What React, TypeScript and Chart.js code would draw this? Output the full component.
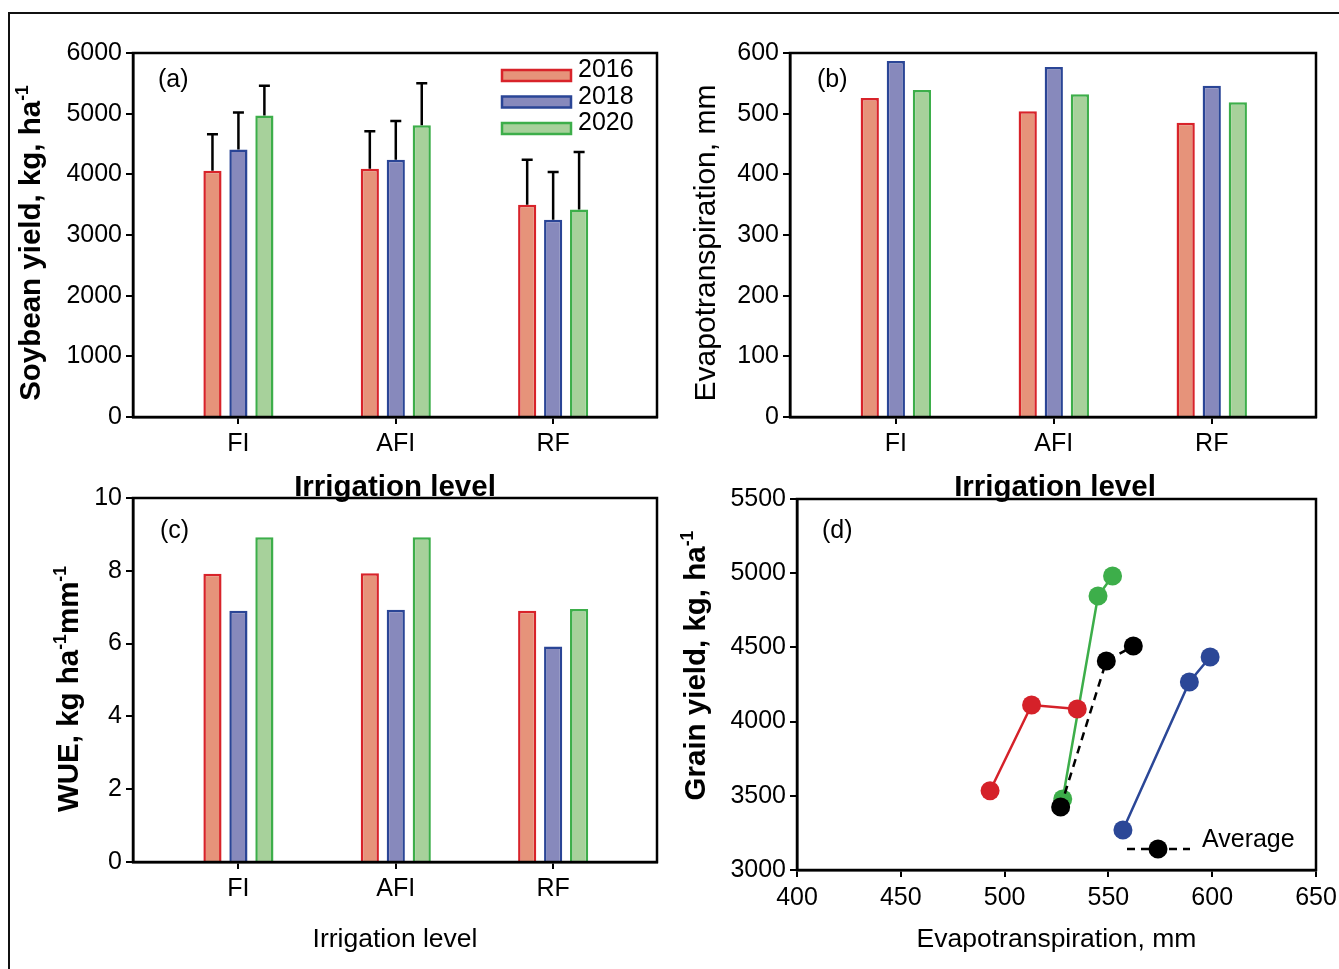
import React, { useEffect, useRef } from 'react';
import { Chart, registerables } from 'chart.js';

Chart.register(...registerables);

// ---------------- DATA ----------------
const categories = ['FI', 'AFI', 'RF'];
const years = ['2016', '2018', '2020'];

// (a) Soybean yield, kg/ha (mean) and error (SD)
const yield2016 = [4060, 4090, 3500];
const yield2018 = [4410, 4240, 3250];
const yield2020 = [4970, 4810, 3420];
const yieldErr2016 = [600, 620, 740];
const yieldErr2018 = [610, 640, 790];
const yieldErr2020 = [490, 690, 950];

// (b) Evapotranspiration, mm
const et2016 = [526, 504, 485];
const et2018 = [587, 577, 546];
const et2020 = [539, 532, 519];

// (c) WUE, kg ha-1 mm-1
const wue2016 = [7.92, 7.93, 6.9];
const wue2018 = [6.9, 6.93, 5.92];
const wue2020 = [8.92, 8.92, 6.95];

// (d) Evapotranspiration (mm) vs grain yield (kg/ha)
const etD2016 = [493, 513, 535];
const gyD2016 = [3534, 4112, 4085];
const etD2018 = [557, 589, 599];
const gyD2018 = [3270, 4267, 4435];
const etD2020 = [528, 545, 552];
const gyD2020 = [3478, 4846, 4981];
const etDAvg = [527, 549, 562];
const gyDAvg = [3425, 4408, 4509];

// ---------------- STYLE ----------------
const W = 1339;
const H = 969;
const FONT = '"Liberation Sans", Arial, Helvetica, sans-serif';
const FILLS = ['#E6937A', '#8789BC', '#A7D19B'];
const BORDERS = ['#D8232A', '#2A4596', '#3DAE4A'];
const POINTS = ['#D52129', '#2B4797', '#3DAE4A'];
const TICK_SIZE = 25;
const YW = 90;
const XH = 50;

type Seg = { t: string; sup?: boolean };

function drawRich(
  ctx: CanvasRenderingContext2D,
  segs: Seg[],
  x: number,
  y: number,
  size: number,
  bold: boolean,
  rotate: boolean,
  align: 'center' | 'left' = 'center'
) {
  ctx.save();
  ctx.translate(x, y);
  if (rotate) ctx.rotate(-Math.PI / 2);
  const weight = bold ? 'bold ' : '';
  const supSize = size * 0.6;
  const fontOf = (s: Seg) => `${weight}${s.sup ? supSize : size}px ${FONT}`;
  let total = 0;
  const widths = segs.map((s) => {
    ctx.font = fontOf(s);
    const w = ctx.measureText(s.t).width;
    total += w;
    return w;
  });
  let cx = align === 'center' ? -total / 2 : 0;
  ctx.fillStyle = '#000';
  ctx.textBaseline = 'alphabetic';
  ctx.textAlign = 'left';
  segs.forEach((s, i) => {
    ctx.font = fontOf(s);
    ctx.fillText(s.t, cx, s.sup ? -size * 0.4 : 0);
    cx += widths[i];
  });
  ctx.restore();
}

type Plot = { l: number; t: number; r: number; b: number };

function axisCommon() {
  return {
    grid: {
      display: true,
      drawOnChartArea: false,
      drawTicks: true,
      tickLength: 7,
      color: '#000',
      lineWidth: 2,
      offset: false,
    },
    border: { display: true, color: '#000', width: 2.5 },
  };
}

function layoutPadding(p: Plot) {
  return {
    left: p.l - YW,
    top: p.t,
    right: W - p.r,
    bottom: H - p.b - XH,
  };
}

function fitX(s: any) {
  s.height = XH;
  s.paddingLeft = 0;
  s.paddingRight = 0;
}

function fitY(s: any) {
  s.width = YW;
  s.paddingTop = 0;
  s.paddingBottom = 0;
}

function drawFrame(chart: any) {
  const { ctx, chartArea: a } = chart;
  ctx.save();
  ctx.strokeStyle = '#000';
  ctx.lineWidth = 2.5;
  ctx.strokeRect(a.left, a.top, a.right - a.left, a.bottom - a.top);
  ctx.restore();
}

const plainNum = (v: any) => String(v);

function barConfig(opts: {
  series: number[][];
  errors?: number[][];
  yMax: number;
  yStep: number;
  plot: Plot;
  deco: (chart: any) => void;
}) {
  const c = axisCommon();
  return {
    type: 'bar',
    data: {
      datasets: years.map((yr, k) => ({
        label: yr,
        data: opts.series[k].map((v, i) => ({ x: i + 1, y: v })),
        backgroundColor: FILLS[k],
        borderColor: BORDERS[k],
        borderWidth: 2.5,
        borderSkipped: 'start',
        categoryPercentage: 0.495,
        barPercentage: 0.7,
      })),
    },
    options: {
      animation: false,
      responsive: false,
      layout: { padding: layoutPadding(opts.plot) },
      plugins: { legend: { display: false }, tooltip: { enabled: false } },
      scales: {
        x: {
          type: 'linear',
          min: 0.33,
          max: 3.66,
          offset: false,
          afterBuildTicks: (s: any) => {
            s.ticks = categories.map((_, i) => ({ value: i + 1 }));
          },
          afterFit: fitX,
          ticks: {
            callback: (v: any) => categories[Math.round(Number(v)) - 1] ?? '',
            font: { size: TICK_SIZE, family: FONT },
            color: '#000',
            padding: 5,
            maxRotation: 0,
            autoSkip: false,
          },
          ...c,
        },
        y: {
          type: 'linear',
          min: 0,
          max: opts.yMax,
          afterFit: fitY,
          ticks: {
            stepSize: opts.yStep,
            callback: plainNum,
            font: { size: TICK_SIZE, family: FONT },
            color: '#000',
            padding: 4,
          },
          ...c,
        },
      },
    },
    plugins: [
      {
        id: 'deco',
        afterDatasetsDraw(chart: any) {
          const ctx = chart.ctx;
          if (opts.errors) {
            const ys = chart.scales.y;
            ctx.save();
            ctx.strokeStyle = '#000';
            ctx.lineWidth = 2.5;
            opts.errors.forEach((errs, k) => {
              const meta = chart.getDatasetMeta(k);
              meta.data.forEach((el: any, i: number) => {
                const top = ys.getPixelForValue(opts.series[k][i] + errs[i]);
                ctx.beginPath();
                ctx.moveTo(el.x, el.y);
                ctx.lineTo(el.x, top);
                ctx.moveTo(el.x - 5.5, top);
                ctx.lineTo(el.x + 5.5, top);
                ctx.stroke();
              });
            });
            ctx.restore();
          }
          drawFrame(chart);
          opts.deco(chart);
        },
      },
    ],
  };
}

function drawBarLegend(chart: any) {
  const ctx = chart.ctx;
  const a = chart.chartArea;
  years.forEach((yr, k) => {
    const bx = a.right - 155;
    const by = a.top + 17 + k * 26.5;
    ctx.save();
    ctx.fillStyle = FILLS[k];
    ctx.strokeStyle = BORDERS[k];
    ctx.lineWidth = 2.5;
    ctx.fillRect(bx, by, 69, 11);
    ctx.strokeRect(bx, by, 69, 11);
    ctx.restore();
    drawRich(ctx, [{ t: yr }], a.right - 79, a.top + 24 + k * 26.5, 25, false, false, 'left');
  });
}

const PLOT_A: Plot = { l: 133, t: 53, r: 657, b: 417 };
const PLOT_B: Plot = { l: 790, t: 53, r: 1316, b: 417 };
const PLOT_C: Plot = { l: 133, t: 498, r: 657, b: 862 };
const PLOT_D: Plot = { l: 797, t: 499, r: 1316, b: 870 };

function configA() {
  return barConfig({
    series: [yield2016, yield2018, yield2020],
    errors: [yieldErr2016, yieldErr2018, yieldErr2020],
    yMax: 6000,
    yStep: 1000,
    plot: PLOT_A,
    deco: (chart) => {
      const ctx = chart.ctx;
      const a = chart.chartArea;
      drawRich(ctx, [{ t: '(a)' }], a.left + 25, a.top + 34, 25, false, false, 'left');
      drawRich(
        ctx,
        [{ t: 'Soybean yield, kg, ha' }, { t: '-1', sup: true }],
        a.left - 93,
        (a.top + a.bottom) / 2 + 8,
        29.5,
        true,
        true
      );
      drawRich(ctx, [{ t: 'Irrigation level' }], (a.left + a.right) / 2, a.bottom + 79, 29.5, true, false);
      drawBarLegend(chart);
    },
  });
}

function configB() {
  return barConfig({
    series: [et2016, et2018, et2020],
    yMax: 600,
    yStep: 100,
    plot: PLOT_B,
    deco: (chart) => {
      const ctx = chart.ctx;
      const a = chart.chartArea;
      drawRich(ctx, [{ t: '(b)' }], a.left + 27, a.top + 34, 25, false, false, 'left');
      drawRich(
        ctx,
        [{ t: 'Evapotranspiration, mm' }],
        a.left - 75,
        (a.top + a.bottom) / 2 + 8,
        30,
        false,
        true
      );
      drawRich(ctx, [{ t: 'Irrigation level' }], 1055, a.bottom + 79, 29.5, true, false);
    },
  });
}

function configC() {
  return barConfig({
    series: [wue2016, wue2018, wue2020],
    yMax: 10,
    yStep: 2,
    plot: PLOT_C,
    deco: (chart) => {
      const ctx = chart.ctx;
      const a = chart.chartArea;
      drawRich(ctx, [{ t: '(c)' }], a.left + 27, a.top + 40, 25, false, false, 'left');
      drawRich(
        ctx,
        [{ t: 'WUE, kg ha' }, { t: '-1', sup: true }, { t: 'mm' }, { t: '-1', sup: true }],
        a.left - 55,
        (a.top + a.bottom) / 2 + 9,
        29.5,
        true,
        true
      );
      drawRich(ctx, [{ t: 'Irrigation level' }], (a.left + a.right) / 2, a.bottom + 85, 26.5, false, false);
    },
  });
}

function configD() {
  const c = axisCommon();
  const mk = (xs: number[], ys: number[]) => xs.map((x, i) => ({ x, y: ys[i] }));
  const series = [
    { label: '2016', data: mk(etD2016, gyD2016), color: POINTS[0], order: 1, dash: [] as number[] },
    { label: '2018', data: mk(etD2018, gyD2018), color: POINTS[1], order: 3, dash: [] as number[] },
    { label: '2020', data: mk(etD2020, gyD2020), color: POINTS[2], order: 2, dash: [] as number[] },
    { label: 'Average', data: mk(etDAvg, gyDAvg), color: '#000', order: 0, dash: [8, 6] },
  ];
  return {
    type: 'line',
    data: {
      datasets: series.map((s) => ({
        label: s.label,
        data: s.data,
        borderColor: s.color,
        backgroundColor: s.color,
        pointBackgroundColor: s.color,
        pointBorderColor: s.color,
        pointBorderWidth: 0,
        pointRadius: 9.5,
        borderWidth: 2.5,
        borderDash: s.dash,
        order: s.order,
        tension: 0,
      })),
    },
    options: {
      animation: false,
      responsive: false,
      layout: { padding: layoutPadding(PLOT_D) },
      plugins: { legend: { display: false }, tooltip: { enabled: false } },
      scales: {
        x: {
          type: 'linear',
          min: 400,
          max: 650,
          afterFit: fitX,
          ticks: {
            stepSize: 50,
            callback: plainNum,
            font: { size: TICK_SIZE, family: FONT },
            color: '#000',
            padding: 6,
            maxRotation: 0,
          },
          ...c,
        },
        y: {
          type: 'linear',
          min: 3000,
          max: 5500,
          afterFit: fitY,
          ticks: {
            stepSize: 500,
            callback: plainNum,
            font: { size: TICK_SIZE, family: FONT },
            color: '#000',
            padding: 4,
          },
          ...c,
        },
      },
    },
    plugins: [
      {
        id: 'decoD',
        afterDatasetsDraw(chart: any) {
          const ctx = chart.ctx;
          const a = chart.chartArea;
          drawFrame(chart);
          drawRich(ctx, [{ t: '(d)' }], a.left + 25, a.top + 39, 25, false, false, 'left');
          drawRich(
            ctx,
            [{ t: 'Grain yield, kg, ha' }, { t: '-1', sup: true }],
            a.left - 92,
            (a.top + a.bottom) / 2 - 19,
            29.5,
            true,
            true
          );
          drawRich(ctx, [{ t: 'Evapotranspiration, mm' }], (a.left + a.right) / 2, a.bottom + 77, 26.5, false, false);
          // legend "Average"
          const ly = a.bottom - 21;
          ctx.save();
          ctx.strokeStyle = '#000';
          ctx.lineWidth = 2.5;
          ctx.setLineDash([8, 6]);
          ctx.beginPath();
          ctx.moveTo(a.right - 189, ly);
          ctx.lineTo(a.right - 126, ly);
          ctx.stroke();
          ctx.setLineDash([]);
          ctx.fillStyle = '#000';
          ctx.beginPath();
          ctx.arc(a.right - 158, ly, 9.5, 0, Math.PI * 2);
          ctx.fill();
          ctx.restore();
          drawRich(ctx, [{ t: 'Average' }], a.right - 114, a.bottom - 23, 25, false, false, 'left');
        },
      },
    ],
  };
}

function ChartCanvas({ make }: { make: () => any }) {
  const ref = useRef<HTMLCanvasElement | null>(null);
  useEffect(() => {
    if (!ref.current) return;
    const chart = new Chart(ref.current, make());
    return () => chart.destroy();
  }, [make]);
  return (
    <canvas
      ref={ref}
      width={W}
      height={H}
      style={{ position: 'absolute', left: 0, top: 0, width: W, height: H }}
    />
  );
}

export default function App() {
  return (
    <div
      style={{
        position: 'absolute',
        left: 0,
        top: 0,
        width: W,
        height: H,
        overflow: 'hidden',
        background: '#fff',
      }}
    >
      <div
        style={{
          position: 'absolute',
          left: 8,
          top: 12,
          width: W + 50,
          height: H + 50,
          border: '2.5px solid #111',
          boxSizing: 'border-box',
        }}
      />
      <ChartCanvas make={configA} />
      <ChartCanvas make={configB} />
      <ChartCanvas make={configC} />
      <ChartCanvas make={configD} />
    </div>
  );
}
